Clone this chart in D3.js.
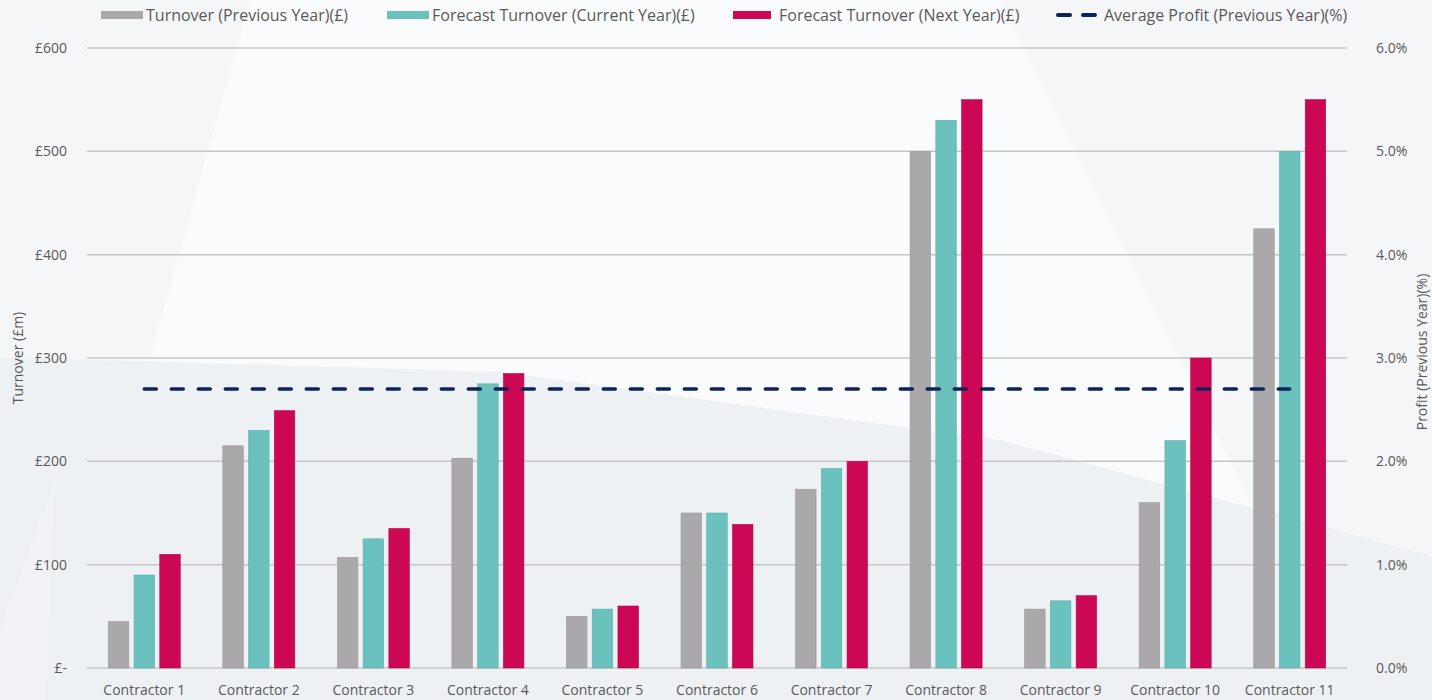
<!DOCTYPE html>
<html><head><meta charset="utf-8">
<script src="https://cdn.jsdelivr.net/npm/d3@7"></script>
<style>body{margin:0;background:#fff;}svg{display:block;font-family:"Open Sans",Calibri,sans-serif;}</style>
</head><body><svg id="c" width="1432" height="700"></svg>
<script>
const categories = ["Contractor 1","Contractor 2","Contractor 3","Contractor 4","Contractor 5","Contractor 6","Contractor 7","Contractor 8","Contractor 9","Contractor 10","Contractor 11"];
const turnoverPrev = [45,215,107,203,50,150,173,500,57,160,425];
const forecastCurrent = [90,230,125,275,57,150,193,530,65,220,500];
const forecastNext = [110,249,135,285,60,139,200,550,70,300,550];
const avgProfit = [2.7,2.7,2.7,2.7,2.7,2.7,2.7,2.7,2.7,2.7,2.7];
const leftTicks = [0,100,200,300,400,500,600];
const rightTicks = [0,1,2,3,4,5,6];
const seriesNames = ["Turnover (Previous Year)(£)","Forecast Turnover (Current Year)(£)","Forecast Turnover (Next Year)(£)","Average Profit (Previous Year)(%)"];
const colors = ["#aaa8ab","#6bc1bd","#cc0855","#0c2459"];

const svg = d3.select("#c");
const W=1432,H=700;
const m={l:87,r:1347,t:48,b:668};

// background
const bg = svg.append("g");
bg.append("rect").attr("width",W).attr("height",H).attr("fill","#f8f9fa");
bg.append("path").attr("d","M0,0 L250,0 L150,357 L0,357 Z").attr("fill","#f5f6f8");
bg.append("path").attr("d","M1000,0 L1432,0 L1432,556 L1256,513 Z").attr("fill","#f5f6f8");
bg.append("path").attr("d","M250,0 L1000,0 L1256,513 L1000,440 L500,372 L150,360 Z").attr("fill","#fafbfc");
bg.append("path").attr("d","M0,357 L500,372 L1000,440 L1432,556 L1432,700 L0,700 Z").attr("fill","#eef1f4");
bg.append("path").attr("d","M0,630 L55,480 L45,700 L0,700 Z").attr("fill","#f0f2f5");

const x0 = d3.scaleBand().domain(categories).range([m.l,m.r]).paddingInner(0).paddingOuter(0);
const y = d3.scaleLinear().domain([0,600]).range([m.b,m.t]);
const y2 = d3.scaleLinear().domain([0,6]).range([m.b,m.t]);
const bw = 20.5, step = 25.75;

// gridlines
svg.append("g").selectAll("line").data(leftTicks).join("line")
 .attr("x1",m.l).attr("x2",m.r).attr("y1",d=>y(d)).attr("y2",d=>y(d))
 .attr("stroke","#c6c6c6").attr("stroke-width",1.5);

// axis labels
svg.append("g").selectAll("text").data(leftTicks).join("text")
 .attr("x",67).attr("y",d=>y(d)).attr("dy","0.35em").attr("text-anchor","end")
 .attr("font-size",14).attr("fill","#595959").text(d=>d===0?"£-":"£"+d);
svg.append("g").selectAll("text").data(rightTicks).join("text")
 .attr("x",1376).attr("y",d=>y2(d)).attr("dy","0.35em").attr("text-anchor","start")
 .attr("font-size",14).attr("fill","#595959").text(d=>d.toFixed(1)+"%");

svg.append("text").attr("transform","translate(23,358) rotate(-90)").attr("text-anchor","middle")
 .attr("font-size",14).attr("fill","#595959").text("Turnover (£m)");
svg.append("text").attr("transform","translate(1427,352) rotate(-90)").attr("text-anchor","middle")
 .attr("font-size",14).attr("fill","#595959").text("Profit (Previous Year)(%)");

// bars
const series=[turnoverPrev,forecastCurrent,forecastNext];
const gb = svg.append("g");
series.forEach((vals,si)=>{
  gb.append("g").selectAll("rect").data(vals).join("rect")
   .attr("x",(d,i)=>x0(categories[i])+x0.bandwidth()/2+(si-1)*step-bw/2)
   .attr("width",bw)
   .attr("y",d=>y(d)).attr("height",d=>y(0)-y(d))
   .attr("fill",colors[si]).attr("stroke",d3.color(colors[si]).darker(0.3)).attr("stroke-width",0.6);
});

// x labels
svg.append("g").selectAll("text").data(categories).join("text")
 .attr("x",d=>x0(d)+x0.bandwidth()/2).attr("y",690).attr("dy","0.35em").attr("text-anchor","middle")
 .attr("font-size",14).attr("fill","#595959").text(d=>d);

// dashed line
const line=d3.line().x((d,i)=>x0(categories[i])+x0.bandwidth()/2).y(d=>y2(d));
svg.append("path").datum(avgProfit).attr("d",line).attr("fill","none").attr("stroke",colors[3])
 .attr("stroke-width",3.5).attr("stroke-dasharray","12,15").attr("stroke-linecap","round");

// legend
const leg=[{x:101,t:146},{x:387,t:432},{x:733,t:779},{x:1056,t:1104}];
leg.forEach((p,i)=>{
  if(i<3){
    svg.append("rect").attr("x",p.x).attr("y",11).attr("width",i===2?38:42).attr("height",8).attr("fill",colors[i]);
  } else {
    svg.append("line").attr("x1",p.x+2).attr("x2",p.x+40).attr("y1",15).attr("y2",15)
     .attr("stroke",colors[3]).attr("stroke-width",4).attr("stroke-dasharray","12,13").attr("stroke-linecap","round");
  }
  svg.append("text").attr("x",p.t).attr("y",15).attr("dy","0.35em").attr("font-size",16)
   .attr("fill","#595959").text(seriesNames[i]);
});
</script></body></html>
